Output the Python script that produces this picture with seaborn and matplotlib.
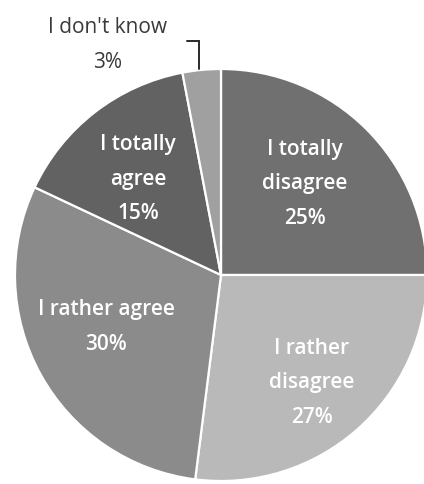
import matplotlib
matplotlib.use("Agg")
import matplotlib.pyplot as plt
import seaborn as sns

sns.set_theme(style="white")
plt.rcParams["font.family"] = ["Open Sans", "DejaVu Sans"]

# Survey answers, clockwise from 12 o'clock
categories = ["I totally\ndisagree", "I rather\ndisagree", "I rather agree",
              "I totally\nagree", "I don't know"]
shares = [25, 27, 30, 15, 3]
colors = ["#707070", "#b9b9b9", "#8b8b8b", "#626262", "#a0a0a0"]

W, H = 424, 485
fig = plt.figure(figsize=(W / 100, H / 100), dpi=100)
ax = fig.add_axes([0, 0, 1, 1])

cx, cy, r = 221, 209, 206
wedges, _ = ax.pie(shares, colors=colors, startangle=90, counterclock=False,
                   center=(cx, cy), radius=r, frame=True,
                   wedgeprops=dict(edgecolor="white", linewidth=1.6))
ax.set_xlim(0, W)
ax.set_ylim(0, H)
ax.set_aspect("equal")
ax.axis("off")

# label anchor points inside each slice (x, y)
label_pos = [(305, 301), (312, 102), (106, 158), (138, 306)]
for (x, y), cat, val in zip(label_pos, categories[:4], shares[:4]):
    ax.text(x, y, f"{cat}\n{val}%", ha="center", va="center", color="white",
            fontsize=15, fontweight="semibold", linespacing=1.85)

# small slice labelled outside with a leader line
ax.text(108, 440, f"{categories[4]}\n{shares[4]}%", ha="center", va="center",
        color="#3a3a3a", fontsize=15, linespacing=1.85)
ax.plot([187, 199, 199], [443, 443, 415], color="#2a2a2a", linewidth=1.4,
        solid_joinstyle="miter")

fig.savefig("out.png", dpi=100, facecolor="white")
